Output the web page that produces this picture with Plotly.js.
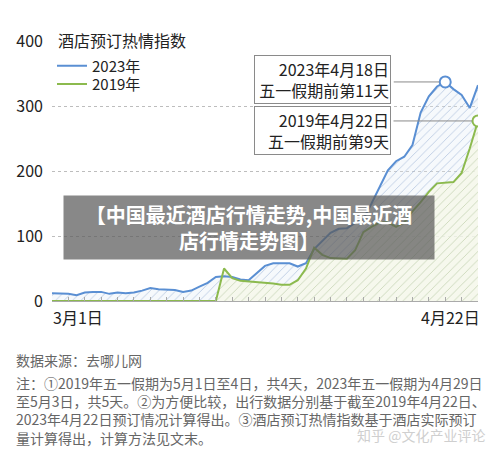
<!DOCTYPE html>
<html>
<head>
<meta charset="utf-8">
<script src="https://cdn.plot.ly/plotly-3.0.1.min.js"></script>
<style>
html,body{margin:0;padding:0;background:#fff;}
#chart{width:500px;height:455px;}
</style>
</head>
<body>
<div id="chart"></div>
<script>
const dates = [
 '3月1日','3月2日','3月3日','3月4日','3月5日','3月6日','3月7日','3月8日','3月9日','3月10日',
 '3月11日','3月12日','3月13日','3月14日','3月15日','3月16日','3月17日','3月18日','3月19日','3月20日',
 '3月21日','3月22日','3月23日','3月24日','3月25日','3月26日','3月27日','3月28日','3月29日','3月30日',
 '3月31日','4月1日','4月2日','4月3日','4月4日','4月5日','4月6日','4月7日','4月8日','4月9日',
 '4月10日','4月11日','4月12日','4月13日','4月14日','4月15日','4月16日','4月17日','4月18日','4月19日',
 '4月20日','4月21日','4月22日'
];
const index2023 = [
 12,12,11,9,13,14,14,11,13,12,
 13,16,20,18,18,17,14,16,22,28,
 37,38,37,33,32,43,54,58,58,58,
 53,58,80,92,105,111,112,120,126,150,
 175,201,215,222,240,290,315,330,337,326,
 317,297,332
];
const index2019 = [
 0,0,0,0,0,0,0,0,0,0,
 0,0,0,0,0,0,0,0,0,0,
 0,50,35,31,30,29,29,27,25,25,
 32,50,82,71,66,66,65,78,106,114,
 121,121,114,121,138,152,168,181,182,183,
 197,235,277
];
const seriesNames = ['2023年','2019年'];
const xTickLabels = ['3月1日','4月22日'];
const yTickVals = [0,100,200,300,400];
const chartTitle = '酒店预订热情指数';
const callout2023 = '2023年4月18日<br>五一假期前第11天';
const callout2019 = '2019年4月22日<br>五一假期前第9天';
const peak2023Idx = 48;
const last2019Idx = 52;
const bannerLines = ['【中国最近酒店行情走势,中国最近酒', '店行情走势图】'];
const sourceText = '数据来源：去哪儿网';
const noteText = '注：①2019年五一假期为5月1日至4日，共4天，2023年五一假期为4月29日<br>至5月3日，共5天。②为方便比较，出行数据分别基于截至2019年4月22日、<br>2023年4月22日预订情况计算得出。③酒店预订热情指数基于酒店实际预订<br>量计算得出，计算方法见文末。';
const watermark = '知乎 @文化产业评论';

const BLUE = '#5a8fd3';
const GREEN = '#8cba4e';
const FONT = '"Noto Sans CJK SC", "Noto Sans", sans-serif';

const traces = [
  {x: dates, y: index2023, type: 'scatter', mode: 'lines', fill: 'tozeroy',
   line: {width: 0, color: BLUE}, showlegend: false, hoverinfo: 'skip',
   fillcolor: 'rgba(220,230,245,0.35)',
   fillpattern: {shape: '/', fgcolor: 'rgba(150,175,210,0.6)', bgcolor: 'rgba(225,235,248,0.3)', size: 6, solidity: 0.15}},
  {x: dates, y: index2019, type: 'scatter', mode: 'lines', fill: 'tozeroy',
   line: {width: 0, color: GREEN}, showlegend: false, hoverinfo: 'skip',
   fillcolor: 'rgba(240,244,225,0.6)',
   fillpattern: {shape: '/', fgcolor: 'rgba(185,200,150,0.55)', bgcolor: 'rgba(245,248,232,0.75)', size: 6, solidity: 0.15}},
  {x: dates, y: index2023, type: 'scatter', mode: 'lines', name: seriesNames[0], legend: 'legend',
   line: {width: 2, color: BLUE}},
  {x: dates, y: index2019, type: 'scatter', mode: 'lines', name: seriesNames[1], legend: 'legend2',
   line: {width: 2, color: GREEN}},
  {x: [dates[peak2023Idx]], y: [index2023[peak2023Idx]], type: 'scatter', mode: 'markers', showlegend: false,
   marker: {size: 11, color: 'white', line: {color: BLUE, width: 2}}},
  {x: [dates[last2019Idx]], y: [index2019[last2019Idx]], type: 'scatter', mode: 'markers', showlegend: false,
   marker: {size: 11, color: 'white', line: {color: GREEN, width: 2}}}
];

const annotations = [
  {xref: 'paper', yref: 'paper', x: 0.008, y: 1, yshift: 1, xanchor: 'left', yanchor: 'middle',
   text: chartTitle, showarrow: false, bgcolor: 'white', borderpad: 2,
   font: {family: FONT, size: 16, color: '#222'}},
  {x: dates[0], xref: 'x', yref: 'paper', y: 0, yshift: -2, xshift: -1, xanchor: 'left', yanchor: 'top',
   text: xTickLabels[0], showarrow: false, font: {family: FONT, size: 16, color: '#222'}},
  {x: dates[dates.length - 1], xref: 'x', yref: 'paper', y: 0, yshift: -2, xshift: 4, xanchor: 'right', yanchor: 'top',
   text: xTickLabels[1], showarrow: false, font: {family: FONT, size: 16, color: '#222'}},
  // connector lines
  {x: dates[peak2023Idx], y: index2023[peak2023Idx], xref: 'x', yref: 'y', text: '',
   showarrow: true, arrowhead: 0, arrowwidth: 1, arrowcolor: '#8a8a8a', ax: -53, ay: 0, standoff: 6},
  {x: dates[last2019Idx], y: index2019[last2019Idx], xref: 'x', yref: 'y', text: '',
   showarrow: true, arrowhead: 0, arrowwidth: 1, arrowcolor: '#8a8a8a', ax: -86, ay: 0, standoff: 6},
  // callout boxes
  {x: dates[peak2023Idx], y: index2023[peak2023Idx], xref: 'x', yref: 'y', text: callout2023,
   showarrow: true, arrowcolor: 'rgba(0,0,0,0)', ax: -122.5, ay: -2, align: 'right',
   bgcolor: 'white', bordercolor: '#8a8a8a', borderwidth: 1, borderpad: 1, width: 133,
   font: {family: FONT, size: 16, color: '#222'}},
  {x: dates[last2019Idx], y: index2019[last2019Idx], xref: 'x', yref: 'y', text: callout2019,
   showarrow: true, arrowcolor: 'rgba(0,0,0,0)', ax: -155.5, ay: 10, align: 'right',
   bgcolor: 'white', bordercolor: '#8a8a8a', borderwidth: 1, borderpad: 1, width: 133,
   font: {family: FONT, size: 16, color: '#222'}},
  // banner overlay
  {xref: 'paper', yref: 'paper', x: 0.4624, y: 0.2846, xanchor: 'center', yanchor: 'middle',
   text: bannerLines.map(s => '<b>' + s + '</b>').join('<br>'), showarrow: false,
   bgcolor: 'rgba(90,90,90,0.72)', borderpad: 4, width: 362, align: 'center',
   font: {family: FONT, size: 20, color: 'white'}},
  // notes
  {xref: 'paper', yref: 'paper', x: -0.089, y: -0.228, xanchor: 'left', yanchor: 'middle',
   text: sourceText, showarrow: false, align: 'left',
   font: {family: FONT, size: 14, color: '#666'}},
  {xref: 'paper', yref: 'paper', x: -0.089, y: -0.271, xanchor: 'left', yanchor: 'top',
   text: noteText, showarrow: false, align: 'left',
   font: {family: FONT, size: 14, color: '#666'}},
  {xref: 'paper', yref: 'paper', x: 1.02, y: -0.515, xanchor: 'right', yanchor: 'middle',
   text: watermark, showarrow: false,
   font: {family: FONT, size: 14, color: '#cfcfcf'}}
];

const legendBase = {xanchor: 'left', yanchor: 'top', bgcolor: 'rgba(0,0,0,0)',
  font: {family: FONT, size: 15, color: '#222'}, itemwidth: 30};

const layout = {
  width: 500, height: 455,
  margin: {l: 52, r: 22, t: 41, b: 154},
  paper_bgcolor: 'white', plot_bgcolor: 'white',
  font: {family: FONT, color: '#222'},
  showlegend: true,
  legend: Object.assign({}, legendBase, {x: 0.0, y: 0.967}),
  legend2: Object.assign({}, legendBase, {x: 0.0, y: 0.897}),
  xaxis: {type: 'category', range: [0, dates.length - 1], showgrid: false, zeroline: false,
          showline: true, linecolor: '#aaa', linewidth: 1,
          ticks: 'inside', ticklen: 4, tickcolor: '#aaa', showticklabels: false, fixedrange: true},
  yaxis: {range: [0, 400], tickvals: yTickVals, showgrid: true, gridcolor: '#bdbdbd', griddash: 'dot',
          gridwidth: 1, zeroline: false, showline: false, ticks: '', ticklabelstandoff: 8,
          tickfont: {family: FONT, size: 16, color: '#222'}, fixedrange: true},
  annotations: annotations
};

Plotly.newPlot('chart', traces, layout, {displayModeBar: false, staticPlot: true});
</script>
</body>
</html>
